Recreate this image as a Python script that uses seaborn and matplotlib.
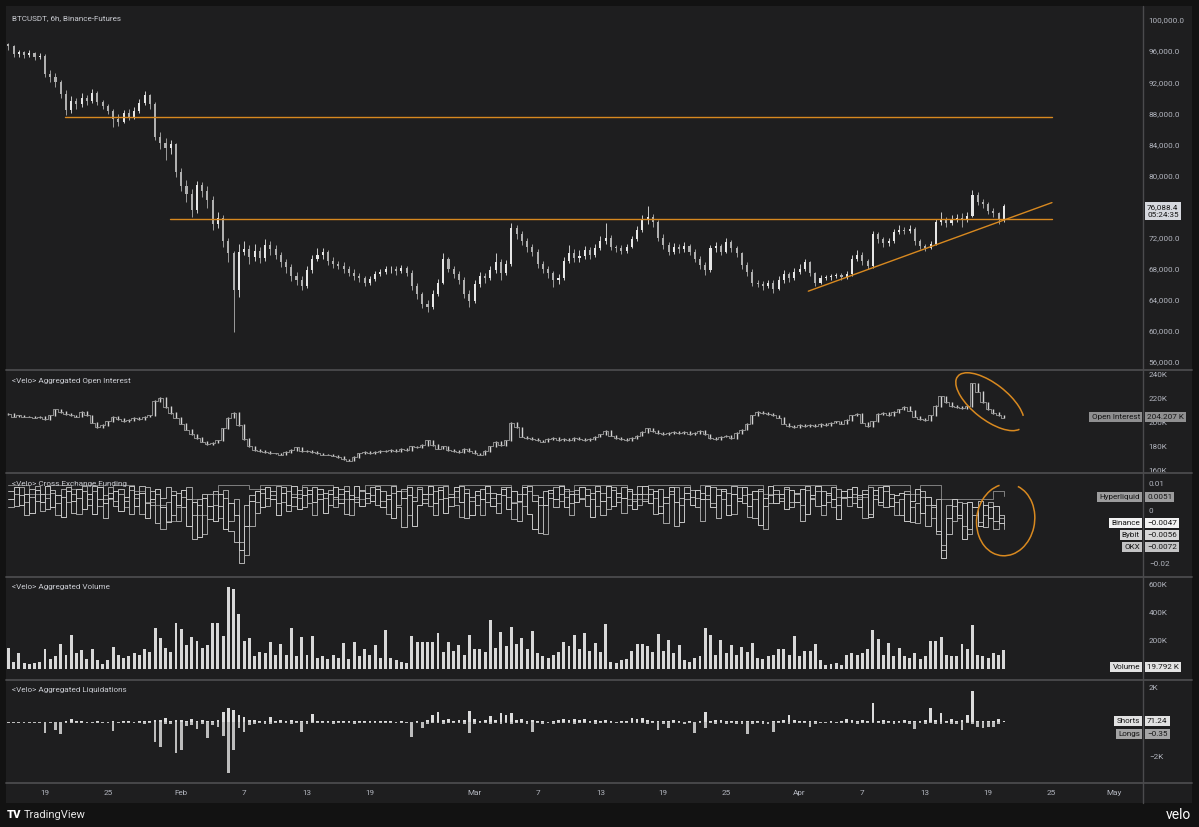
import numpy as np
import pandas as pd
import matplotlib
matplotlib.use("Agg")
import matplotlib.pyplot as plt
import matplotlib.dates as mdates
import seaborn as sns
from matplotlib.patches import Arc, Rectangle
from matplotlib.lines import Line2D
from matplotlib.transforms import IdentityTransform

# ---------------------------------------------------------------- data
start = "2026-01-15 12:00"      # first bar
bar_hours = 12                   # bars are 12h aggregates
first_open = 96.9                # thousand USDT

closes = [96.6, 95.6, 95.9, 95.5, 95.7, 95.3, 95.4, 93.0, 92.6, 92.0,
          90.5, 88.4, 89.6, 89.2, 89.9, 89.6, 90.6, 89.4, 88.9, 88.3,
          87.2, 86.9, 88.0, 87.5, 88.3, 89.3, 90.3, 89.2, 85.0, 84.2,
          83.5, 84.0, 80.5, 78.6, 77.6, 75.5, 78.8, 78.0, 76.8, 73.8,
          74.5, 71.5, 70.0, 65.2, 70.2, 70.5, 69.5, 70.3, 69.4, 71.0,
          70.5, 69.8, 68.8, 68.2, 67.0, 66.6, 65.8, 67.8, 69.3, 69.8,
          70.2, 69.0, 68.6, 68.4, 67.9, 67.5, 67.1, 66.8, 66.2, 66.7,
          67.3, 67.6, 67.9, 68.0, 67.7, 68.1, 67.5, 65.8, 64.7, 63.4,
          63.0, 64.8, 66.2, 69.2, 68.0, 67.3, 66.6, 64.7, 63.8, 66.0,
          67.0, 66.8, 67.8, 68.8, 67.5, 68.6, 73.2, 72.4, 71.5, 70.8,
          70.2, 68.6, 68.0, 67.4, 66.5, 66.8, 69.0, 70.0, 69.4, 69.6,
          70.4, 69.8, 70.7, 71.6, 72.0, 70.8, 70.6, 70.3, 70.8, 71.8,
          73.0, 74.2, 74.6, 74.0, 72.0, 71.0, 70.2, 70.8, 70.5, 70.9,
          70.2, 69.2, 68.5, 67.8, 70.6, 70.9, 70.2, 71.4, 70.6, 70.0,
          68.5, 67.6, 66.2, 66.0, 65.8, 66.2, 65.4, 66.5, 67.3, 66.8,
          67.6, 68.0, 68.8, 67.4, 66.2, 66.8, 66.9, 67.0, 67.2, 66.9,
          67.3, 69.3, 69.8, 69.0, 68.3, 72.4, 71.8, 71.3, 71.6, 72.7,
          73.0, 72.9, 73.1, 71.5, 70.9, 70.7, 71.2, 74.0, 74.2, 73.9,
          74.4, 74.5, 74.2, 74.8, 77.5, 76.6, 76.3, 75.4, 75.1, 74.2,
          76.0884]

highs = [97.1, 96.8, 96.2, 96.0, 96.1, 95.9, 95.8, 95.6, 93.6, 93.2,
         92.3, 91.0, 90.2, 90.0, 90.6, 90.4, 91.1, 90.8, 89.7, 89.2,
         88.6, 87.9, 88.4, 88.5, 88.8, 89.8, 90.8, 90.5, 89.4, 85.6,
         84.8, 84.6, 84.2, 81.0, 79.4, 78.2, 79.3, 79.2, 78.6, 77.3,
         75.3, 74.9, 72.0, 70.3, 71.2, 71.5, 71.0, 71.2, 70.8, 71.8,
         71.6, 71.0, 70.2, 69.3, 68.6, 67.6, 67.0, 68.3, 69.8, 70.7,
         70.6, 70.4, 69.5, 69.0, 68.8, 68.3, 67.9, 67.5, 67.1, 67.1,
         67.7, 68.0, 68.3, 68.4, 68.3, 68.5, 68.4, 67.8, 66.2, 65.0,
         63.9, 65.3, 66.7, 70.0, 69.5, 68.4, 67.7, 66.9, 65.2, 66.5,
         67.6, 67.5, 68.3, 70.0, 69.2, 69.1, 73.9, 73.6, 72.9, 71.9,
         71.2, 70.5, 69.0, 68.4, 67.7, 67.3, 69.5, 71.0, 70.5, 70.4,
         70.9, 70.8, 71.2, 72.2, 73.9, 72.3, 71.1, 71.0, 71.2, 72.2,
         73.5, 74.9, 76.0, 75.0, 74.3, 72.4, 71.4, 71.3, 71.2, 71.4,
         71.2, 70.5, 69.6, 68.9, 71.0, 71.4, 71.2, 71.9, 71.7, 70.9,
         70.2, 68.9, 67.9, 66.6, 66.4, 66.6, 66.5, 67.0, 67.8, 67.6,
         68.1, 68.6, 69.3, 69.0, 67.6, 67.2, 67.2, 67.3, 67.5, 67.4,
         67.7, 69.7, 70.4, 70.1, 69.3, 72.9, 72.7, 72.1, 72.0, 73.1,
         73.6, 73.4, 73.6, 73.3, 71.8, 71.2, 71.6, 74.4, 75.3, 74.6,
         74.9, 75.0, 75.1, 75.3, 78.1, 77.8, 77.0, 76.6, 75.8, 75.3,
         76.3]

lows = [96.2, 95.3, 95.2, 95.1, 95.2, 94.9, 95.0, 92.6, 92.0, 91.4,
        90.0, 87.8, 88.0, 88.6, 88.8, 89.1, 89.3, 89.1, 88.5, 87.9,
        86.2, 86.3, 86.7, 87.1, 87.2, 88.0, 89.0, 88.6, 84.5, 83.4,
        82.0, 82.8, 79.8, 78.0, 76.6, 74.6, 75.2, 77.2, 75.8, 73.0,
        73.2, 70.8, 68.8, 59.8, 64.4, 69.8, 68.6, 69.0, 68.7, 69.0,
        69.8, 69.2, 68.2, 67.5, 66.4, 65.9, 65.2, 65.5, 67.5, 69.0,
        69.3, 68.5, 68.1, 67.9, 67.4, 67.0, 66.6, 66.3, 65.8, 65.9,
        66.4, 67.0, 67.3, 67.5, 67.2, 67.4, 67.0, 65.3, 64.1, 62.9,
        62.4, 62.8, 64.5, 66.0, 67.6, 66.8, 66.0, 64.2, 63.1, 63.6,
        65.7, 66.2, 66.5, 67.5, 66.6, 67.2, 68.4, 71.8, 71.0, 70.2,
        69.6, 68.1, 67.4, 66.8, 65.6, 66.0, 66.5, 68.7, 68.9, 68.9,
        69.2, 69.2, 69.5, 70.4, 71.2, 70.4, 70.1, 69.9, 70.0, 70.6,
        71.5, 72.7, 73.8, 73.4, 71.5, 70.5, 69.8, 69.9, 70.0, 70.1,
        69.7, 68.8, 68.0, 67.2, 67.6, 70.1, 69.8, 70.0, 70.2, 69.5,
        68.0, 67.1, 65.8, 65.6, 65.3, 65.5, 64.9, 65.2, 66.2, 66.3,
        66.5, 67.3, 67.7, 67.0, 65.8, 66.0, 66.5, 66.6, 66.8, 66.5,
        66.7, 67.1, 69.0, 68.5, 67.9, 68.1, 71.3, 70.8, 70.9, 71.3,
        72.4, 72.5, 72.6, 71.1, 70.5, 70.3, 70.5, 71.0, 73.6, 73.4,
        73.6, 74.0, 73.3, 74.0, 74.6, 76.2, 75.8, 75.0, 74.6, 73.8,
        74.0]

oi_k = [207, 205, 206, 205, 205, 204, 205, 203, 206, 211,
        209, 207, 206, 205, 209, 206, 200, 196, 198, 201,
        205, 203, 201, 202, 204, 203, 205, 206, 218, 221,
        213, 208, 204, 199, 194, 190, 187, 184, 182, 183,
        185, 195, 204, 208, 198, 186, 180, 177, 176, 175,
        174, 174, 173, 175, 177, 179, 176, 176, 175, 174,
        173, 173, 172, 171, 169, 168, 171, 174, 175, 174,
        175, 176, 176, 177, 176, 178, 177, 180, 179, 181,
        185, 181, 178, 180, 177, 176, 175, 178, 176, 174,
        173, 176, 180, 184, 181, 185, 200, 196, 188, 187,
        186, 185, 184, 186, 187, 185, 186, 185, 187, 186,
        185, 186, 188, 190, 193, 189, 187, 186, 185, 187,
        189, 192, 195, 193, 191, 190, 191, 192, 191, 192,
        190, 191, 193, 190, 187, 186, 188, 189, 187, 191,
        194, 199, 206, 209, 208, 207, 206, 204, 199, 197,
        196, 198, 197, 198, 197, 199, 198, 200, 201, 199,
        202, 206, 207, 200, 197, 201, 207, 208, 206, 209,
        211, 213, 210, 205, 203, 202, 206, 214, 222, 217,
        214, 213, 212, 214, 233, 226, 217, 211, 208, 206,
        204.207]

# funding in units of 1e-4 (12h steps; Hyperliquid 24h steps)
funding_binance = [40, 85, 20, 60, -10, 75, 30, 90, 10, 55,
                   -25, 70, 35, 80, 5, 60, -15, 85, 25, 45,
                   70, -5, 50, 90, 15, 65, -30, 40, 80, 10,
                   -45, 55, 20, 75, -60, 30, -100, 45, 15, -40,
                   60, -70, 25, -20, -150, -60, 35, 70, 10, 85,
                   40, -20, 65, 20, 90, 5, 55, 75, 30, 80,
                   -10, 60, 85, 25, 70, 40, 90, 15, 65, 35,
                   80, 10, 55, -30, 70, 45, 85, -60, 20, 60,
                   90, 25, 75, -10, 50, 85, 30, 65, -20, 70,
                   40, 90, 15, 60, 80, 5, 70, 35, 85, -15,
                   -70, 50, 20, 75, 40, 90, 10, 60, 30, 85,
                   55, -25, 70, 35, 90, 15, 65, 45, 80, 5,
                   60, 90, 25, 70, -10, 50, 85, 30, -45, 65,
                   20, 75, 40, 90, 10, 55, 80, -20, 60, 35,
                   85, 15, 70, -55, 45, 90, 25, 60, 5, 75,
                   30, 80, -15, 55, 90, 20, 65, 40, -35, 70,
                   50, 85, 10, 60, -25, 75, 30, 90, 15, 55,
                   65, -40, 35, 80, -10, 50, 20, -80, -180, -30,
                   40, -20, -110, 30, 10, -60, 20, -30, 15, -50,
                   -47]
funding_bybit = [70, 15, 55, -20, 80, 35, 60, 5, 75, 25,
                 50, 85, -10, 45, 70, 20, 90, 40, -30, 65,
                 15, 80, 35, -15, 60, 90, 25, 70, -50, 45,
                 85, -20, 65, 10, 40, -110, 20, 60, -35, 70,
                 15, 45, -80, -120, -200, 20, 55, -10, 80, 45,
                 70, 25, 85, -5, 50, 75, 10, 60, 85, 40,
                 65, 20, 50, 80, -15, 55, 30, 75, 45, 85,
                 20, 70, 40, 90, 10, -65, 55, 35, 80, 25,
                 60, -20, 85, 45, 15, 70, 90, -30, 50, 20,
                 80, 30, 65, -10, 55, 85, 25, -40, 60, 90,
                 35, -85, 70, 45, 10, 60, 80, 25, 75, 40,
                 15, 65, 90, -20, 50, 75, 30, 85, 20, 60,
                 90, 35, 60, -15, 80, 25, 70, -60, 45, 85,
                 50, 10, 65, 40, 85, -30, 70, 20, 90, 45,
                 25, 60, -30, 80, 15, 55, 75, 35, 85, 10,
                 65, -40, 90, 40, 15, 70, 30, 85, 20, 50,
                 80, 25, 55, 75, -15, 40, 85, 10, 60, 30,
                 -20, 60, -45, 25, 70, -60, 10, 40, -150, -90,
                 15, -30, 25, -70, -20, 35, -65, 10, -40, -20,
                 -56]
funding_okx = [10, 60, 85, 30, 50, 90, -5, 45, 65, -20,
               80, 30, 60, -15, 90, 40, 70, 15, 55, 85,
               35, 60, 10, 75, 45, -15, 85, 20, 60, -70,
               30, 70, -40, 50, 85, -20, 40, -90, 60, 20,
               -30, 75, -40, 40, -120, -170, -60, 30, 65, 15,
               55, 90, 30, 70, 15, 45, 85, 25, -20, 60,
               45, 75, 10, 60, 90, -20, 50, 70, 25, 55,
               90, 35, -15, 65, 20, 80, -20, 50, 85, 40,
               15, 70, 40, 90, 60, 20, -25, 80, 35, 55,
               -20, 65, 45, 25, 85, 50, -35, 60, 15, 70,
               55, 20, -90, 65, 85, 35, 50, -20, 60, 45,
               80, 40, 15, 65, 5, 85, 50, -10, 70, 35,
               20, 60, 80, 45, 15, -50, 60, 85, 20, 40,
               75, 45, -40, 55, 25, 80, 40, 65, -15, 85,
               55, -25, 40, 70, -70, 25, 60, 45, 80, 30,
               60, 20, 75, 45, 70, -20, 55, 10, 80, 45,
               15, 60, 40, -30, 85, 55, 20, 70, 45, -20,
               40, 70, 10, -50, 50, 20, -30, -90, -130, 20,
               -40, 30, -60, -90, 10, -45, -20, 30, -70, -30,
               -72]
funding_hyperliquid = [95, 95, 60, 60, 95, 95, 80, 95, 95, 40,
                       95, 95, 70, 30, 20, -40, 10, 40, -20, 60,
                       95, 95, 95, 80, 95, 95, 95, 60, 95, 95,
                       95, 40, 40, 40, 95, 95, 95, 70, 95, 95,
                       95, 95, 50, 95, 95, 95, 95, 95, 30, 95,
                       95, 95, 95, 70, 95, 95, 95, 95, 95, 40,
                       40, 95, 95, 95, 95, 75, 95, 95, 95, 95,
                       95, 95, 60, 95, 95, 95, 95, 95, 95, 50,
                       50, 50, 95, 95, 95, 95, 60, 95, 95, 40,
                       40, 40, 40, 40, 70, 51]
hyper_step_hours = 24

volume_k = [150, 50, 114, 40, 35, 40, 45, 138, 70, 90,
            174, 100, 238, 110, 133, 70, 138, 60, 35, 60,
            157, 100, 80, 90, 114, 100, 138, 120, 293, 217,
            150, 120, 324, 281, 170, 228, 200, 150, 170, 328,
            328, 233, 583, 566, 388, 200, 221, 90, 120, 110,
            190, 100, 178, 100, 293, 90, 226, 100, 233, 80,
            90, 70, 100, 80, 186, 70, 193, 90, 143, 100,
            169, 80, 276, 80, 60, 50, 40, 233, 190, 190,
            190, 190, 257, 120, 190, 130, 167, 100, 240, 140,
            140, 120, 345, 150, 262, 160, 298, 180, 221, 140,
            269, 110, 90, 80, 100, 120, 190, 160, 238, 140,
            257, 130, 186, 120, 321, 50, 40, 60, 70, 130,
            174, 174, 160, 120, 245, 130, 202, 110, 169, 60,
            50, 80, 90, 288, 240, 100, 202, 110, 169, 100,
            155, 120, 186, 80, 70, 90, 100, 140, 140, 100,
            233, 90, 130, 130, 174, 60, 30, 35, 40, 30,
            100, 110, 100, 110, 140, 276, 209, 100, 186, 90,
            150, 90, 80, 114, 70, 90, 198, 198, 226, 100,
            90, 90, 178, 143, 309, 100, 90, 80, 110, 100,
            133]
volume_last_6h_k = 19.792

liq_shorts = [30, 20, 40, 25, 30, 20, 35, 40, 30, 25,
              40, 60, 190, 50, 80, 40, 30, 60, 40, 30,
              50, 40, 80, 60, 40, 70, 50, 90, 150, 120,
              230, 80, 150, 110, 100, 190, 60, 120, 90, 80,
              160, 620, 850, 700, 400, 300, 150, 110, 90, 70,
              330, 90, 120, 60, 140, 80, 100, 60, 460, 80,
              70, 50, 80, 60, 90, 50, 70, 60, 80, 50,
              60, 70, 90, 50, 40, 60, 30, 40, 50, 30,
              120, 430, 620, 150, 200, 90, 110, 130, 660, 180,
              100, 160, 390, 120, 520, 400, 560, 110, 170, 90,
              120, 60, 70, 40, 80, 110, 200, 150, 200, 130,
              180, 90, 120, 80, 140, 60, 40, 50, 90, 270,
              200, 250, 140, 90, 60, 80, 70, 110, 60, 40,
              50, 40, 70, 620, 90, 110, 130, 80, 100, 60,
              90, 70, 50, 80, 60, 40, 70, 90, 110, 420,
              120, 80, 100, 60, 70, 40, 30, 50, 40, 60,
              190, 150, 90, 110, 70, 1100, 80, 120, 100, 90,
              70, 110, 90, 60, 80, 120, 810, 150, 520, 100,
              190, 90, 120, 420, 1810, 90, 70, 100, 80, 170,
              71.24]
liq_longs = [-20, -30, -15, -25, -20, -30, -20, -600, -40, -450,
             -700, -30, -50, -40, -60, -30, -20, -40, -50, -30,
             -480, -60, -40, -30, -50, -40, -70, -60, -1120, -1450,
             -120, -80, -1800, -1600, -200, -150, -400, -90, -930, -150,
             -300, -800, -2950, -1600, -350, -560, -150, -80, -60, -90,
             -70, -50, -60, -40, -80, -50, -580, -70, -50, -40,
             -60, -40, -80, -50, -60, -40, -70, -50, -60, -40,
             -50, -30, -40, -60, -40, -30, -50, -830, -60, -350,
             -70, -60, -50, -90, -40, -60, -50, -80, -640, -70,
             -60, -50, -80, -40, -90, -60, -70, -50, -60, -80,
             -580, -60, -90, -40, -70, -50, -60, -40, -80, -50,
             -60, -40, -70, -50, -30, -40, -60, -50, -40, -60,
             -50, -40, -70, -60, -440, -80, -350, -60, -50, -70,
             -40, -600, -60, -350, -50, -70, -60, -80, -50, -90,
             -70, -680, -80, -60, -90, -70, -540, -60, -50, -70,
             -40, -60, -50, -290, -70, -40, -30, -50, -40, -60,
             -50, -40, -70, -60, -50, -40, -60, -80, -50, -70,
             -60, -50, -70, -400, -60, -80, -50, -70, -90, -60,
             -80, -70, -440, -60, -90, -250, -350, -300, -250, -80,
             -0.35]

# drawn annotations (orange)
levels = [87500, 74400]
level_starts = ["2026-01-20 22:00", "2026-01-30 22:00"]
level_end = "2026-04-25 02:00"
trend_dates = ["2026-04-01 20:00", "2026-04-25 02:00"]
trend_prices = [65100, 76500]
oi_circle = ("2026-04-19 04:00", 217.5)
funding_circle = ("2026-04-20 16:00", -37)

countdown = "05:24:35"
price_ticks = [56000, 60000, 64000, 68000, 72000, 80000, 84000, 88000, 92000, 96000, 100000]
oi_ticks = [160, 180, 200, 220, 240]
funding_ticks = [100, 0, -200]
volume_ticks = [200, 400, 600]
liq_ticks = [2000, -2000]
xtick_dates = ["2026-01-19", "2026-01-25", "2026-02-01", "2026-02-07", "2026-02-13",
               "2026-02-19", "2026-03-01", "2026-03-07", "2026-03-13", "2026-03-19",
               "2026-03-25", "2026-04-01", "2026-04-07", "2026-04-13", "2026-04-19",
               "2026-04-25", "2026-05-01"]
xtick_labels = ["19", "25", "Feb", "7", "13", "19", "Mar", "7", "13", "19", "25",
                "Apr", "7", "13", "19", "25", "May"]
x_view = ("2026-01-15 06:40", "2026-05-03 18:30")

# ---------------------------------------------------------------- style
sns.set_theme(style="dark")
plt.rcParams['font.family'] = ['Roboto', 'DejaVu Sans']
W, H = 1199, 827
BG = '#1e1e1f'
OUT = '#121212'
TXT = '#c9cbd1'
TICK = '#b2b5be'
ORANGE = '#d8891f'
SEP = '#4b4b4d'
FS = 5.9

fig = plt.figure(figsize=(W / 100, H / 100), dpi=100, facecolor=OUT)
fig.patches.append(Rectangle((6 / W, 1 - 803 / H), (1192 - 6) / W, (803 - 6) / H,
                             transform=fig.transFigure, facecolor=BG, edgecolor='none', zorder=-5))


def px_axes(y0, y1, x0=6, x1=1143):
    return fig.add_axes([x0 / W, 1 - y1 / H, (x1 - x0) / W, (y1 - y0) / H])


def dn(s):
    return mdates.date2num(pd.Timestamp(s))


xl, xr = dn(x_view[0]), dn(x_view[1])


def style(ax, ylim, ticks, labels):
    ax.set_facecolor('none')
    ax.set_xlim(xl, xr)
    ax.set_ylim(*ylim)
    for s in ax.spines.values():
        s.set_visible(False)
    ax.grid(False)
    ax.yaxis.tick_right()
    ax.set_yticks(ticks)
    ax.set_yticklabels(labels)
    ax.tick_params(axis='y', length=0, pad=4.2, labelsize=FS, labelcolor=TICK)
    ax.tick_params(axis='x', length=0, labelbottom=False)
    ax.set_xlabel('')
    ax.set_ylabel('')


def mnum(v, fmt):
    return fmt.format(v).replace('-', '\u2212')


t0 = dn(start)
step = bar_hours / 24.0
c = np.array(closes) * 1000
o = np.r_[first_open, closes[:-1]] * 1000
hi = np.maximum(np.array(highs) * 1000, np.maximum(o, c))
lo = np.minimum(np.array(lows) * 1000, np.minimum(o, c))
t = t0 + np.arange(len(c)) * step

# ---------------------------------------------------------------- price
ax1 = px_axes(6, 370)
up = c >= o
cols = np.where(up, '#e6e6e6', '#b0b0b0')
ax1.vlines(t, lo, hi, colors=cols, lw=0.6)
body = np.where(np.abs(c - o) < 80, 80, c - o)
ax1.bar(t, body, bottom=o, width=0.2, color=cols, linewidth=0)
for lev, ls in zip(levels, level_starts):
    ax1.plot([dn(ls), dn(level_end)], [lev, lev], color=ORANGE, lw=1.0)
ax1.plot([dn(d) for d in trend_dates], trend_prices, color=ORANGE, lw=1.0)
style(ax1, (54955, 101802), price_ticks, [f"{v:,.1f}" for v in price_ticks])

# ---------------------------------------------------------------- open interest
ax2 = px_axes(370, 473)
oi = np.array(oi_k, dtype=float)
oi_prev = np.r_[oi[0], oi[:-1]]
ax2.vlines(t[:len(oi)], np.minimum(oi, oi_prev) - 0.6, np.maximum(oi, oi_prev) + 0.6,
           colors='#d4d4d4', lw=1.0)
sns.lineplot(x=t[:len(oi)], y=oi, drawstyle='steps-mid', color='#9c9c9c', lw=0.6,
             estimator=None, ax=ax2)
style(ax2, (157.5, 244.2), oi_ticks, [f"{v}K" for v in oi_ticks])

# ---------------------------------------------------------------- funding
ax3 = px_axes(473, 577)
frames = []
for name, vals, hrs in [("Hyperliquid", funding_hyperliquid, hyper_step_hours),
                        ("OKX", funding_okx, bar_hours),
                        ("Bybit", funding_bybit, bar_hours),
                        ("Binance", funding_binance, bar_hours)]:
    tt = t0 + np.arange(len(vals)) * hrs / 24.0
    frames.append(pd.DataFrame({"t": tt, "v": vals, "ex": name}))
fund = pd.concat(frames, ignore_index=True)
pal = {"Hyperliquid": '#808080', "OKX": '#a2a2a2', "Bybit": '#b2b2b2', "Binance": '#c8c8c8'}
sns.lineplot(data=fund, x="t", y="v", hue="ex", palette=pal, estimator=None,
             drawstyle='steps-post', lw=0.7, legend=False, ax=ax3, sort=True)
style(ax3, (-250.9, 138.6), funding_ticks, ["0.01", "0", "\u22120.02"])

# ---------------------------------------------------------------- volume
ax4 = px_axes(577, 680)
ax4.bar(t[:len(volume_k)], volume_k, width=0.28, color='#d8d8d8', linewidth=0)
style(ax4, (-80.7, 655), volume_ticks, [f"{v}K" for v in volume_ticks])

# ---------------------------------------------------------------- liquidations
ax5 = px_axes(680, 783)
ax5.bar(t[:len(liq_shorts)], liq_shorts, width=0.26, color='#dcdcdc', linewidth=0)
ax5.bar(t[:len(liq_longs)], liq_longs, width=0.26, color='#bdbdbd', linewidth=0)
style(ax5, (-3509, 2445), liq_ticks, ["2K", "\u22122K"])
ax5.set_xticks([dn(d) for d in xtick_dates])
ax5.set_xticklabels(xtick_labels)
ax5.tick_params(axis='x', labelbottom=True, length=0, pad=5.0, labelsize=FS, labelcolor=TICK)

# ---------------------------------------------------------------- separators
for yy in [370, 473, 577, 680, 783]:
    fig.add_artist(Line2D([6 / W, 1192 / W], [1 - yy / H, 1 - yy / H], color=SEP, lw=1.3))
fig.add_artist(Line2D([1143 / W, 1143 / W], [1 - 6 / H, 1 - 803 / H], color=SEP, lw=1.0))

# ---------------------------------------------------------------- titles
for yy, s in [(18, "BTCUSDT, 6h, Binance-Futures"),
              (381, "<Velo> Aggregated Open Interest"),
              (484, "<Velo> Cross Exchange Funding"),
              (587, "<Velo> Aggregated Volume"),
              (690, "<Velo> Aggregated Liquidations")]:
    fig.text(12 / W, 1 - yy / H, s, color=TXT, fontsize=FS, va='center', ha='left')


# ---------------------------------------------------------------- value labels
def tag(yy, name, value, fc_name, fc_val=None):
    fc_val = fc_val or fc_name
    if name:
        fig.text(1140 / W, 1 - yy / H, name, fontsize=FS, color='#151515', ha='right', va='center',
                 bbox=dict(boxstyle='square,pad=0.28', fc=fc_name, ec='none'))
    fig.text(1147 / W, 1 - yy / H, value, fontsize=FS, color='#151515', ha='left', va='center',
             bbox=dict(boxstyle='square,pad=0.28', fc=fc_val, ec='none'))


fig.text(1147 / W, 1 - 211 / H, f"{c[-1]:,.1f}\n{countdown}", fontsize=FS, color='#151515',
         ha='left', va='center', linespacing=1.25,
         bbox=dict(boxstyle='square,pad=0.3', fc='#d6d8de', ec='none'))
tag(417, "Open Interest", f"{oi[-1]:.3f} K", '#8f8f90')
tag(497, "Hyperliquid", mnum(funding_hyperliquid[-1] / 1e4, "{:.4f}"), '#9c9c9d')
tag(523, "Binance", mnum(funding_binance[-1] / 1e4, "{:.4f}"), '#f2f2f2')
tag(535, "Bybit", mnum(funding_bybit[-1] / 1e4, "{:.4f}"), '#d7d7d8')
tag(547, "OKX", mnum(funding_okx[-1] / 1e4, "{:.4f}"), '#c3c3c4')
tag(667, "Volume", f"{volume_last_6h_k:.3f} K", '#e2e2e2')
tag(721, "Shorts", mnum(liq_shorts[-1], "{:.2f}"), '#e2e2e2')
tag(734, "Longs", mnum(liq_longs[-1], "{:.2f}"), '#a4a4a5')

# ---------------------------------------------------------------- circles (hand drawn marks)
fig.canvas.draw()
cx, cy = ax2.transData.transform((dn(oi_circle[0]), oi_circle[1]))
fig.add_artist(Arc((cx, cy), 82, 36, angle=-38, theta1=15, theta2=355,
                   transform=IdentityTransform(), color=ORANGE, lw=1.1))
cx, cy = ax3.transData.transform((dn(funding_circle[0]), funding_circle[1]))
fig.add_artist(Arc((cx, cy), 58, 72, angle=-8, theta1=108, theta2=78,
                   transform=IdentityTransform(), color=ORANGE, lw=1.1))

# ---------------------------------------------------------------- footer
fig.text(7 / W, 1 - 815 / H, "TV", fontsize=8, color='white', fontweight='heavy', va='center')
fig.text(24 / W, 1 - 815 / H, "TradingView", fontsize=8, color='#e6e6e6', va='center')
fig.text(1191 / W, 1 - 815 / H, "velo", fontsize=10, color='white', va='center', ha='right')

fig.savefig("out.png", dpi=100, facecolor=OUT)
